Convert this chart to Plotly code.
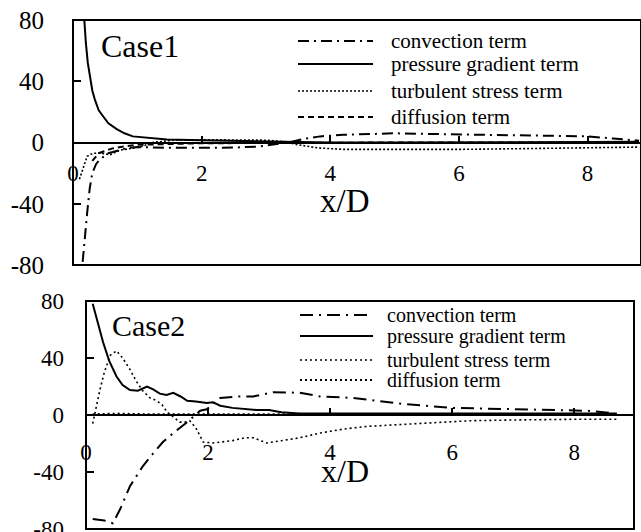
import plotly.graph_objects as go

W, H = 641, 532
FONT = "Liberation Serif"

# ---------------- Case 1 data ----------------
x1_conv = [0.15, 0.18, 0.22, 0.26, 0.30, 0.36, 0.42, 0.55, 0.70, 0.85, 1.0, 1.5, 2.0, 2.5, 2.9, 3.2, 3.4, 3.6, 3.84, 4.2, 4.6, 5.0, 5.5, 6.0, 6.5, 7.0, 7.5, 8.0, 8.4, 8.8]
y1_conv = [-78, -62, -46, -30, -20, -14, -11, -7, -5, -3.5, -3, -3.5, -3.5, -3.3, -2.6, -1, 0.5, 2.5, 4, 5, 5.7, 6, 5.6, 5.3, 5, 4.8, 4.5, 4, 2.6, 1.2]

x1_pres = [0.16, 0.18, 0.20, 0.23, 0.26, 0.30, 0.34, 0.40, 0.47, 0.55, 0.68, 0.80, 0.93, 1.2, 1.46, 2.0, 2.5, 3.0, 3.5, 4.0, 5.0, 6.0, 7.0, 8.0, 8.8]
y1_pres = [90, 76, 65, 52, 43, 34, 28, 21, 17, 12.5, 8.7, 6, 4, 2.8, 2, 1.5, 1.2, 0.8, 0.3, 0, 0, 0, 0, 0.3, 0.5]

x1_turb = [0.10, 0.13, 0.16, 0.22, 0.31, 0.42, 0.50, 0.58, 0.73, 0.90, 1.04, 1.24, 1.55, 2.0, 2.5, 3.0, 3.3, 3.5, 3.8, 4.2, 5.0, 6.0, 7.0, 8.0, 8.8]
y1_turb = [-24, -20, -16, -9, -7, -7, -7.5, -8, -5, -4, -3, 0, 1.5, 1.8, 1.8, 1.5, 0.5, -1.5, -3.5, -4.5, -4.5, -4.5, -4, -3.5, -3]

x1_diff = [0.30, 0.40, 0.60, 0.80, 1.0, 1.5, 2.0, 3.0, 4.0, 5.0, 6.0, 7.0, 8.0, 8.8]
y1_diff = [-12, -7, -4, -2.5, -1.5, -1, -0.5, -0.3, 0, 0, 0, 0, 0, 0]

# ---------------- Case 2 data ----------------
x2_conv = [0.11, 0.30, 0.44, 0.56, 0.72, 0.93, 1.10, 1.26, 1.45, 1.66, 1.87, 1.98, 2.2, 2.5, 2.74, 3.07, 3.5, 3.84, 4.38, 5.2, 6.0, 7.1, 8.2, 8.6]
y2_conv = [-73, -74, -76, -66, -50, -36, -27, -19, -12, -5, 3, 4, 12, 13, 13, 16, 15.6, 13, 12, 7.7, 5, 4, 3, 1.5]

x2_pres = [0.11, 0.20, 0.28, 0.38, 0.50, 0.60, 0.72, 0.85, 1.0, 1.10, 1.21, 1.32, 1.43, 1.55, 1.66, 1.80, 1.98, 2.08, 2.2, 2.4, 2.6, 2.8, 3.0, 3.2, 3.5, 4.0, 5.0, 6.0, 7.0, 8.0, 8.7]
y2_pres = [78, 63, 51, 38, 27, 21, 17.5, 17, 20, 18, 15, 14, 15.5, 13, 10, 9.5, 8.5, 9, 6.5, 5, 4, 3.5, 3.5, 2, 1, 1, 0.8, 0.8, 0.8, 1, 1]

x2_turb = [0.11, 0.16, 0.23, 0.30, 0.40, 0.50, 0.60, 0.72, 0.82, 0.93, 1.05, 1.16, 1.25, 1.33, 1.42, 1.54, 1.62, 1.70, 1.80, 1.92, 2.08, 2.4, 2.6, 2.74, 2.96, 3.2, 3.5, 3.84, 4.2, 4.6, 5.2, 5.8, 6.3, 7.0, 7.5, 8.0, 8.7]
y2_turb = [-6, 5, 18, 30, 42, 45, 40, 32, 24, 17, 12, 10, 7, 2, -1, -5, -5, -4, -9, -19, -19.6, -18, -16, -16, -19.6, -18, -16, -12.6, -10, -8, -6.5, -5, -4, -3.5, -3.2, -3, -3]

x2_diff = [0.11, 0.5, 1.0, 2.0, 3.0, 4.0, 5.0, 6.0, 7.0, 8.0, 8.7]
y2_diff = [0.5, 1, 0.5, 0.5, 0.3, 0.3, 0.3, 0.3, 0.3, 0.5, 0.5]

names = ["convection term", "pressure gradient term", "turbulent stress term", "diffusion term"]
x_ticks = [0, 2, 4, 6, 8]
y_ticks = [-80, -40, 0, 40, 80]
y_tick_text = ["-80", "-40", "0", "40", "80"]

# ---------------- layout geometry (pixels) ----------------
top = dict(left=73, right=641, top=20, bottom=265, xmax=8.83, xstand=10, ystand=28,
           leg_x0=298, leg_x1=373, leg_tx=389, leg_rows=[41, 64, 91, 117], leg_fs=21)
bot = dict(left=86, right=634, top=301, bottom=529, xmax=8.98, xstand=17, ystand=21,
           leg_x0=300, leg_x1=373, leg_tx=385, leg_rows=[315, 336, 360, 380], leg_fs=20)

def px(x):
    return x / W

def py(y):
    return 1 - y / H

def dom_x(p):
    return [px(p["left"]), px(p["right"])]

def dom_y(p):
    return [py(p["bottom"]), py(p["top"])]

fig = go.Figure()

styles1 = [
    dict(color="black", width=2, dash="11px,5px,2px,5px"),
    dict(color="black", width=2),
    dict(color="black", width=1.6, dash="2px,2px"),
    dict(color="black", width=2, dash="6px,4px"),
]
styles2 = [
    dict(color="black", width=2, dash="13px,6px,2px,6px"),
    dict(color="black", width=2),
    dict(color="black", width=1.6, dash="2px,3px"),
    dict(color="black", width=2, dash="2px,3px"),
]

for (xs, ys), nm, st in zip([(x1_conv, y1_conv), (x1_pres, y1_pres), (x1_turb, y1_turb), (x1_diff, y1_diff)], names, styles1):
    fig.add_trace(go.Scatter(x=xs, y=ys, mode="lines", name=nm, line=st,
                             xaxis="x", yaxis="y", showlegend=False))
for (xs, ys), nm, st in zip([(x2_conv, y2_conv), (x2_pres, y2_pres), (x2_turb, y2_turb), (x2_diff, y2_diff)], names, styles2):
    fig.add_trace(go.Scatter(x=xs, y=ys, mode="lines", name=nm, line=st,
                             xaxis="x2", yaxis="y2", showlegend=False))

def xaxis(p, tfs):
    d = dom_y(p)
    return dict(domain=dom_x(p), range=[0, p["xmax"]], anchor="free", position=(d[0] + d[1]) / 2,
                showline=True, linecolor="black", linewidth=1.5, ticks="inside", ticklen=6,
                tickwidth=1.5, tickcolor="black", tickvals=x_ticks, automargin=False,
                tickfont=dict(family=FONT, size=tfs, color="black"), ticklabelstandoff=p["xstand"],
                ticklabeloverflow="allow", showgrid=False, zeroline=False, fixedrange=True)

def yaxis(p, xname, tfs):
    return dict(domain=dom_y(p), range=[-80, 80], anchor=xname, showline=False,
                ticks="inside", ticklen=8, tickwidth=1.5, tickcolor="black",
                tickvals=y_ticks, ticktext=y_tick_text, automargin=False,
                tickfont=dict(family=FONT, size=tfs, color="black"), ticklabelstandoff=p["ystand"],
                ticklabeloverflow="allow", showgrid=False, zeroline=False, fixedrange=True)

shapes = []
annotations = []
for p, sty, xr, yr in [(top, styles1, "x", "y"), (bot, styles2, "x2", "y2")]:
    shapes.append(dict(type="rect", xref=xr + " domain", yref=yr + " domain", x0=0, x1=1, y0=0, y1=1,
                       line=dict(color="black", width=2)))
    for nm, st, row in zip(names, sty, p["leg_rows"]):
        shapes.append(dict(type="line", xref="paper", yref="paper",
                           x0=px(p["leg_x0"]), x1=px(p["leg_x1"]), y0=py(row), y1=py(row),
                           line=st))
        annotations.append(dict(text=nm, x=px(p["leg_tx"]), y=py(row), xref="paper", yref="paper",
                                xanchor="left", yanchor="middle", showarrow=False,
                                font=dict(family=FONT, size=p["leg_fs"], color="black")))

annotations += [
    dict(text="Case1", x=px(99), y=py(46), xref="paper", yref="paper", xanchor="left",
         yanchor="middle", showarrow=False, font=dict(family=FONT, size=32, color="black")),
    dict(text="x/D", x=px(345), y=py(201), xref="paper", yref="paper", xanchor="center",
         yanchor="middle", showarrow=False, font=dict(family=FONT, size=33, color="black")),
    dict(text="Case2", x=px(110), y=py(325), xref="paper", yref="paper", xanchor="left",
         yanchor="middle", showarrow=False, font=dict(family=FONT, size=30, color="black")),
    dict(text="x/D", x=px(345), y=py(471), xref="paper", yref="paper", xanchor="center",
         yanchor="middle", showarrow=False, font=dict(family=FONT, size=32, color="black")),
]

fig.update_layout(
    width=W, height=H, margin=dict(l=0, r=0, t=0, b=0, pad=0),
    paper_bgcolor="white", plot_bgcolor="white", showlegend=False,
    xaxis=xaxis(top, 23), yaxis=yaxis(top, "x", 25),
    xaxis2=xaxis(bot, 23), yaxis2=yaxis(bot, "x2", 23),
    shapes=shapes, annotations=annotations,
)

fig.write_html(
    "out.html",
    config={"displayModeBar": False},
    post_script="document.body.style.margin='0';document.body.style.overflow='hidden';",
)
